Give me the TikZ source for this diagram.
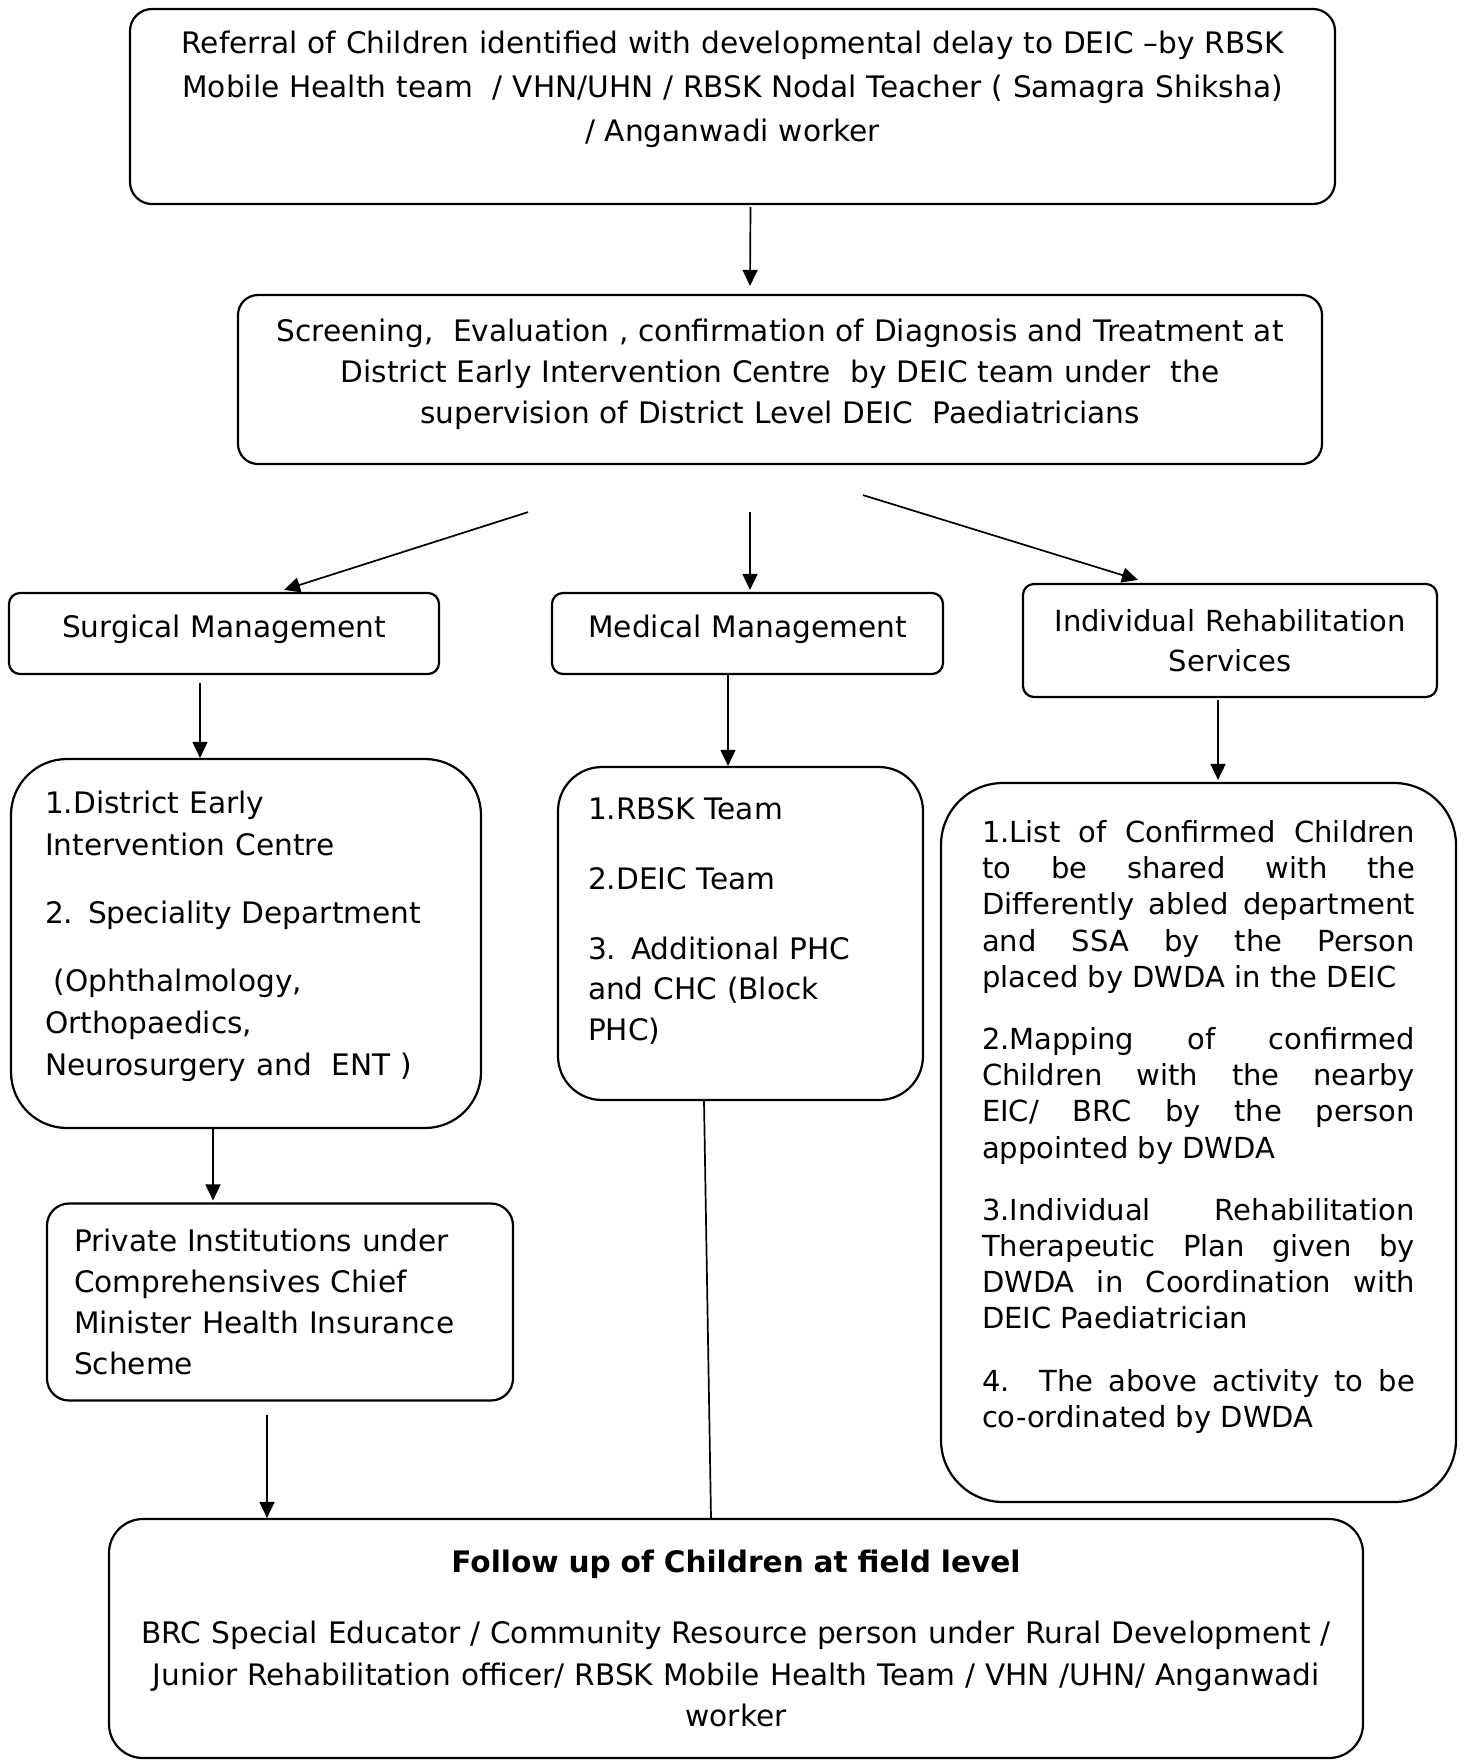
\documentclass[tikz,border=0pt]{standalone}
\usepackage{fontspec}
\setmainfont{DejaVu Sans}
\usetikzlibrary{arrows.meta}
\newcommand\liftup[1]{\par\kern#1\hrule height0pt\relax}

\begin{document}
\begin{tikzpicture}[x=0.5pt,y=-0.5pt,>={Triangle[length=8pt,width=7.5pt]},line join=round]
  \tikzstyle{box}=[draw,line width=1.1pt,inner sep=0pt,font=\fontsize{14.8}{21}\selectfont]
  \tikzstyle{link}=[->,line width=0.85pt]
  \useasboundingbox (0,0) rectangle (1465,1762);

  \node [box,rounded corners=11pt,minimum width=602.5pt,minimum height=97.5pt,
        text width=595pt,align=center,font=\fontsize{14.8}{22}\selectfont] (referral) at (732.5,106.5)
        {Referral of Children identified with developmental delay to DEIC --by RBSK\\
         Mobile Health team~~/ VHN/UHN / RBSK Nodal Teacher ( Samagra Shiksha)\\
         / Anganwadi worker\liftup{17pt}};
  \node [box,rounded corners=10pt,minimum width=542pt,minimum height=84.5pt,
        text width=535pt,align=center,font=\fontsize{14.8}{20.5}\selectfont] (screening) at (780,379.5)
        {Screening,~~Evaluation , confirmation of Diagnosis and Treatment at\\
         District Early Intervention Centre~~by DEIC team under~~the\\
         supervision of District Level DEIC~~Paediatricians\liftup{5.6pt}};

  \node [box,rounded corners=5.5pt,minimum width=215pt,minimum height=40.5pt,
        text width=205pt,align=center] (surgical) at (224,633.5) {Surgical Management\liftup{4.5pt}};
  \node [box,rounded corners=5.5pt,minimum width=195.5pt,minimum height=40.5pt,
        text width=190pt,align=center] (medical) at (747.5,633.5) {Medical Management\liftup{4.5pt}};
  \node [box,rounded corners=5.5pt,minimum width=207pt,minimum height=56.5pt,
        text width=200pt,align=center,font=\fontsize{14.5}{20}\selectfont] (rehab) at (1230,640.5)
        {Individual Rehabilitation\\ Services};

  \node [box,rounded corners=28pt,minimum width=235pt,minimum height=184.5pt,
        text width=201pt,align=left,font=\fontsize{14.8}{21}\selectfont] (surglist) at (246,943.5)
        {1.District Early\\ Intervention Centre\\[13pt]
         2. Speciality Department\\[13pt]
         \hspace{0.3em}(Ophthalmology,\\ Orthopaedics,\\ Neurosurgery and~~ENT )\liftup{6.7pt}};
  \node [box,rounded corners=22pt,minimum width=182.5pt,minimum height=166.5pt,
        text width=152.5pt,align=left,font=\fontsize{14.8}{20.3}\selectfont] (medlist) at (740.5,933.5)
        {1.RBSK Team\\[14.5pt]
         2.DEIC Team\\[14.5pt]
         3. Additional PHC\\ and CHC (Block\\ PHC)\liftup{12.4pt}};
  \node [box,rounded corners=31pt,minimum width=257.5pt,minimum height=359.5pt,
        text width=216.5pt,align=justify,font=\fontsize{14.5}{18.1}\selectfont] (rehablist) at (1198.5,1142.5)
        {1.List of Confirmed Children\linebreak to be shared with the\linebreak
         Differently abled department\linebreak and SSA by the Person\linebreak
         placed by DWDA in the DEIC\par\vspace{13pt}
         2.Mapping of confirmed\linebreak Children with the nearby\linebreak
         EIC/ BRC by the person\linebreak appointed by DWDA\par\vspace{13pt}
         3.Individual Rehabilitation\linebreak Therapeutic Plan given by\linebreak
         DWDA in Coordination with\linebreak DEIC Paediatrician\par\vspace{13pt}
         4. The above activity to be\linebreak co-ordinated by DWDA\liftup{15.7pt}};

  \node [box,rounded corners=11pt,minimum width=233pt,minimum height=98.5pt,
        text width=206pt,align=left,font=\fontsize{14.8}{20.5}\selectfont] (private) at (280,1302)
        {Private Institutions under\\ Comprehensives Chief\\ Minister Health Insurance\\ Scheme};

  \node [box,rounded corners=17pt,minimum width=627pt,minimum height=119.5pt,
        text width=615pt,align=center,font=\fontsize{14.8}{20.8}\selectfont] (follow) at (736,1638.5)
        {\textbf{Follow up of Children at field level}\\[15pt]
         BRC Special Educator / Community Resource person under Rural Development /\\
         Junior Rehabilitation officer/ RBSK Mobile Health Team / VHN /UHN/ Anganwadi\\
         worker};

  % connectors
  \draw [link] ([xshift=9pt,yshift=-1pt]referral.south) -- ([xshift=-15pt,yshift=4pt]screening.north);
  \draw [link] ([xshift=-126pt,yshift=-23.5pt]screening.south) -- ([xshift=30pt,yshift=1pt]surgical.north);
  \draw [link] ([xshift=-15pt,yshift=-23.5pt]screening.south) -- ([xshift=1.25pt,yshift=1pt]medical.north);
  \draw [link] ([xshift=41.5pt,yshift=-15pt]screening.south) -- ([xshift=-46pt,yshift=1.5pt]rehab.north);
  \draw [link] ([xshift=-12pt,yshift=-4pt]surgical.south) -- ([xshift=-23pt]surglist.north);
  \draw [link] ([xshift=-9.75pt]medical.south) -- ([xshift=-6.25pt]medlist.north);
  \draw [link] ([xshift=-6pt,yshift=-1pt]rehab.south) -- ([xshift=9.75pt,yshift=1pt]rehablist.north);
  \draw [link] ([xshift=-16.5pt]surglist.south) -- ([xshift=-33.5pt,yshift=1pt]private.north);
  \draw [link] ([xshift=-6.5pt,yshift=-6.5pt]private.south) -- ([xshift=-234.5pt]follow.north);
  \draw [line width=0.85pt] ([xshift=-18.25pt]medlist.south) -- ([xshift=-12.5pt]follow.north);
\end{tikzpicture}
\end{document}
